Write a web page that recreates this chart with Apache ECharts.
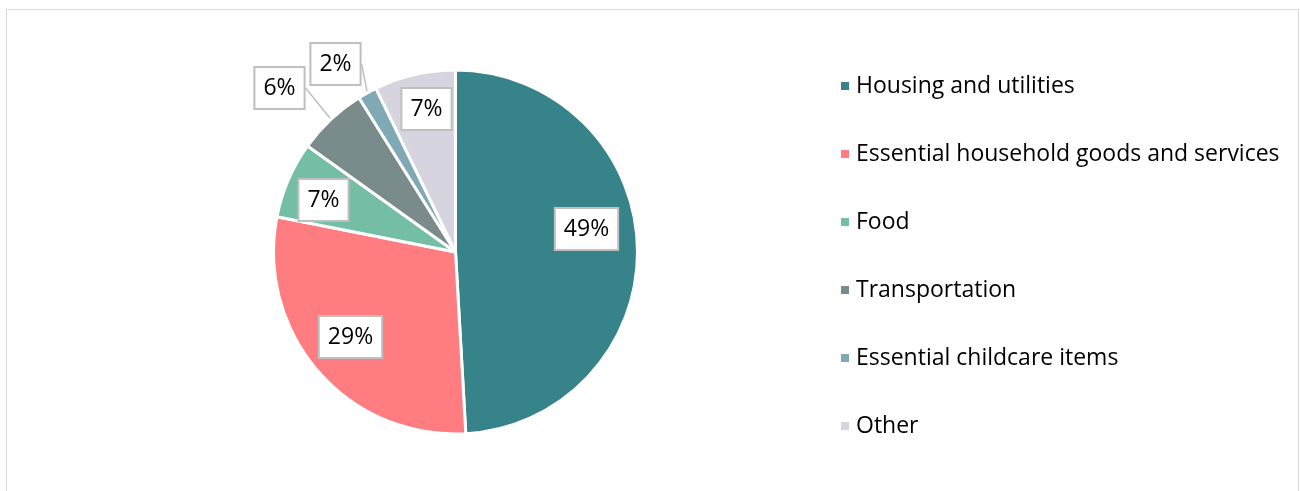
<!DOCTYPE html>
<html>
<head>
<meta charset="utf-8">
<script src="https://cdn.jsdelivr.net/npm/echarts@6/dist/echarts.min.js"></script>
<style>
  html, body { margin: 0; padding: 0; background: #fff; }
  #chart { width: 1300px; height: 491px; }
  .frame {
    position: absolute; left: 6px; top: 9px; width: 1291px; height: 490px;
    border: 1.5px solid #d9d9d9; border-bottom: none; pointer-events: none;
  }
</style>
</head>
<body>
<div id="chart"></div>
<div class="frame"></div>
<script>
const categories = [
  'Housing and utilities',
  'Essential household goods and services',
  'Food',
  'Transportation',
  'Essential childcare items',
  'Other'
]
const shares = [49.1, 29.0, 6.8, 6.2, 1.7, 7.2]
const colors = ['#36848a', '#ff7c80', '#73bea5', '#798b8b', '#7faab5', '#d6d5df']

// callout box offsets from the pie centre, one per slice
const calloutOffsets = [[131, -23], [-105, 85], [-132, -52], [-176, -164], [-120, -188], [-29, -143]]

const center = [455.5, 252]
const radius = 182
const font = '"Open Sans", Lato, sans-serif'

const chart = echarts.init(document.getElementById('chart'))

chart.setOption({
  animation: false,
  legend: {
    orient: 'vertical',
    left: 834,
    top: 68,
    icon: 'rect',
    itemWidth: 10,
    itemHeight: 10,
    itemGap: 42,
    data: categories,
    textStyle: { color: '#000', fontSize: 23, fontFamily: font, lineHeight: 26, padding: [0, 0, 0, 1] }
  },
  series: [
    {
      type: 'pie',
      center: center,
      radius: radius,
      startAngle: 90,
      clockwise: true,
      itemStyle: { borderColor: '#fff', borderWidth: 3 },
      label: {
        show: true,
        position: 'outside',
        formatter: p => Math.round(p.value) + '%',
        color: '#000',
        fontSize: 23,
        lineHeight: 28,
        fontFamily: font,
        backgroundColor: '#fff',
        borderColor: '#bfbfbf',
        borderWidth: 2,
        padding: [6, 8, 6, 8]
      },
      labelLine: {
        show: true,
        length: 6,
        length2: 0,
        lineStyle: { color: '#bfbfbf', width: 1.5 }
      },
      labelLayout: params => {
        const off = calloutOffsets[params.dataIndex]
        return {
          x: center[0] + off[0],
          y: center[1] + off[1],
          align: 'center',
          verticalAlign: 'middle'
        }
      },
      data: categories.map((name, i) => ({
        name,
        value: shares[i],
        itemStyle: { color: colors[i] }
      }))
    }
  ]
})
</script>
</body>
</html>
